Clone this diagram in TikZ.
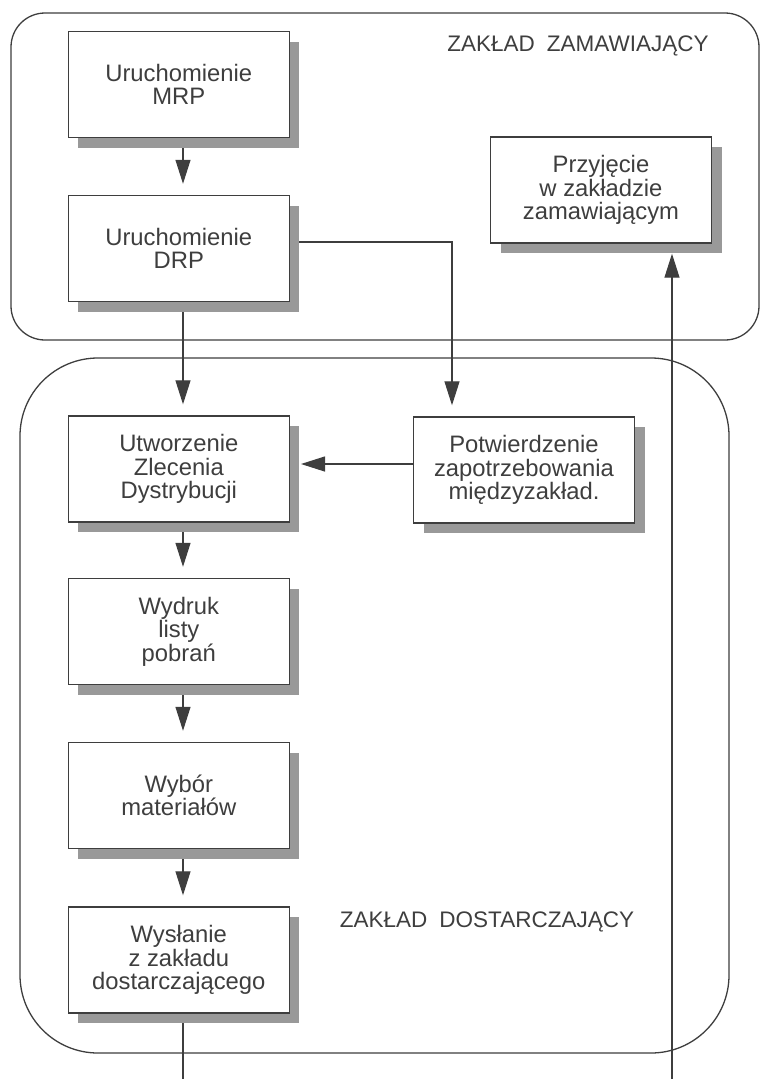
\documentclass[tikz,border=0pt]{standalone}
\usepackage{fontspec}
\setmainfont{Liberation Sans}
\usetikzlibrary{arrows.meta,shadows,backgrounds}
\definecolor{ink}{HTML}{3E3E3E}
\definecolor{shade}{HTML}{999999}
\begin{document}
\begin{tikzpicture}[x=1pt,y=-1pt,
  box/.style={draw=ink, line width=1.4pt, fill=white, minimum width=221pt,
    minimum height=106pt, align=center, inner sep=0pt, text=ink,
    font=\fontsize{23.8}{23.5}\selectfont,
    drop shadow={shadow xshift=10pt, shadow yshift=-10pt, fill=shade, opacity=1}},
  frame/.style={draw=ink, line width=1.3pt},
  link/.style={draw=ink, line width=1.2pt},
  arr/.style={link, -{Triangle[length=24pt,width=15pt]}, shorten >=11pt},
  title/.style={text=ink, anchor=base, inner sep=0pt, font=\fontsize{22.5}{24}\selectfont}]
\useasboundingbox (0,0) rectangle (761,1079);

% zones
\draw[frame, rounded corners=34pt] (11,13) rectangle (759,340);
\draw[frame, rounded corners=78pt] (20,358) rectangle (729,1053);

\node[title] (t1) at (578,51) {ZAKŁAD\hspace{12pt}ZAMAWIAJĄCY};
\node[title] (t2) at (487,927) {ZAKŁAD\hspace{12pt}DOSTARCZAJĄCY};

% boxes
\node[box] (mrp)  at (178.8,84.5)  {Uruchomienie\\MRP};
\node[box] (drp)  at (178.8,248.5) {Uruchomienie\\DRP};
\node[box] (przy) at (601,190)     {Przyjęcie\\w zakładzie\\zamawiającym};
\node[box] (utw)  at (178.8,469)   {Utworzenie\\Zlecenia\\Dystrybucji};
\node[box] (potw) at (524,470)     {Potwierdzenie\\zapotrzebowania\\międzyzakład.};
\node[box] (wyd)  at (178.8,631.5) {Wydruk\\listy\\pobrań};
\node[box] (wyb)  at (178.8,795.5) {Wybór\\materiałów};
\node[box] (wys)  at (178.8,960)   {Wysłanie\\z zakładu\\dostarczającego};

\coordinate (ax) at (183,0);
\coordinate (bx) at (452,0);
\coordinate (bot) at (183,1079);
\coordinate (rin) at (672,1079);

\begin{scope}[on background layer]
  \draw[arr] (mrp.south -| ax) -- (drp.north -| ax);
  \draw[arr] (drp.south -| ax) -- (utw.north -| ax);
  \draw[arr] ([yshift=6.5pt]drp.east) -| (potw.north -| bx);
  \draw[arr] ([yshift=6pt]potw.west) coordinate (pw) -- (utw.east |- pw);
  \draw[arr] (utw.south -| ax) -- (wyd.north -| ax);
  \draw[arr] (wyd.south -| ax) -- (wyb.north -| ax);
  \draw[arr] (wyb.south -| ax) -- (wys.north -| ax);
  \draw[link] (wys.south -| ax) -- (bot);
  \draw[arr, shorten >=10pt] (rin) -- (przy.south -| rin);
\end{scope}
\end{tikzpicture}
\end{document}
